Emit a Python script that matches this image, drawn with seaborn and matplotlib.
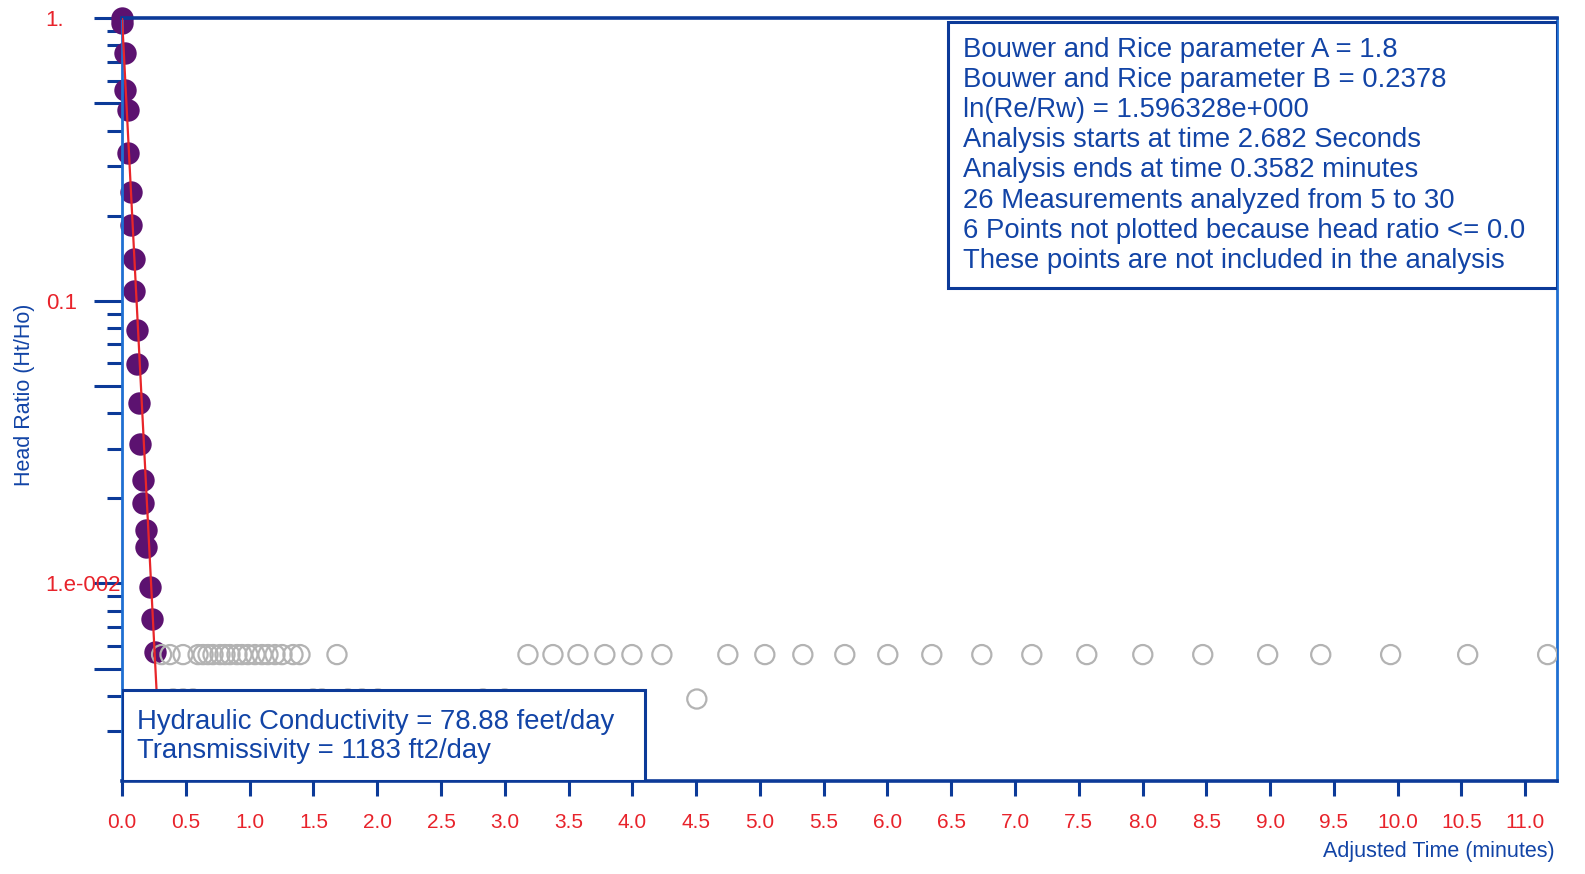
import numpy as np
import seaborn as sns
import matplotlib.pyplot as plt
from matplotlib.patches import Rectangle
from matplotlib.ticker import FixedLocator

# measurements used in the analysis (filled dots)
fit_time = [0.0, 0.0, 0.024, 0.024, 0.047, 0.047, 0.071, 0.071, 0.094, 0.094,
            0.118, 0.118, 0.133, 0.141, 0.165, 0.165, 0.188, 0.188, 0.219, 0.235, 0.259]
fit_ratio = [1.0, 0.960, 0.751, 0.555, 0.472, 0.332, 0.243, 0.186, 0.140, 0.108,
             0.0789, 0.0598, 0.0435, 0.0311, 0.0232, 0.0192, 0.0155, 0.0135, 0.00968, 0.00751, 0.00574]

# later measurements, not analyzed (open circles)
other_time = [0.31, 0.376, 0.478, 0.596, 0.635, 0.674, 0.713, 0.768, 0.807, 0.846,
              0.901, 0.940, 0.987, 1.042, 1.097, 1.144, 1.199, 1.254, 1.340, 1.395,
              1.685, 3.182, 3.378, 3.574, 3.785, 3.997, 4.232, 4.749, 5.039, 5.337,
              5.666, 6.003, 6.348, 6.740, 7.132, 7.563, 8.002, 8.472, 8.981, 9.397,
              9.945, 10.549, 11.176,
              0.40, 0.478, 0.556, 1.497, 1.567, 1.771, 1.881, 2.006, 2.829, 3.0, 4.506]
other_ratio = [0.0056] * 43 + [0.0039] * 11

# straight line fit
line_time = [0.0, 0.307]
line_ratio = [1.0, 0.002]

y_major = [0.005, 0.01, 0.05, 0.1, 0.5, 1.0]
y_major_labels = ['', '1.e-002', '', '0.1', '', '1.']
x_tick_labels = ['0.0', '0.5', '1.0', '1.5', '2.0', '2.5', '3.0', '3.5', '4.0', '4.5',
                 '5.0', '5.5', '6.0', '6.5', '7.0', '7.5', '8.0', '8.5', '9.0', '9.5',
                 '10.0', '10.5', '11.0']

info_lines = ['Bouwer and Rice parameter A = 1.8',
              'Bouwer and Rice parameter B = 0.2378',
              'ln(Re/Rw) = 1.596328e+000',
              'Analysis starts at time 2.682 Seconds',
              'Analysis ends at time 0.3582 minutes',
              '26 Measurements analyzed from 5 to 30',
              '6 Points not plotted because head ratio <= 0.0',
              'These points are not included in the analysis']
result_lines = ['Hydraulic Conductivity = 78.88 feet/day',
                'Transmissivity = 1183 ft2/day']

navy = '#0c3a98'
blue = '#1f6fd2'
red = '#e8232b'
text_blue = '#1244a6'

sns.set_style('white')
plt.rcParams['font.family'] = ['Liberation Sans', 'DejaVu Sans']

fig = plt.figure(figsize=(15.85, 8.74), dpi=100)
ax = fig.add_axes([0.077, 0.1064, 0.9054, 0.873])

sns.scatterplot(x=other_time, y=other_ratio, ax=ax, s=190, facecolor='none',
                edgecolor='#b3b3b3', linewidth=1.6, zorder=3)
sns.scatterplot(x=fit_time, y=fit_ratio, ax=ax, s=260, color='#5c1270',
                edgecolor='#5c1270', linewidth=0, zorder=2, clip_on=False)
sns.lineplot(x=line_time, y=line_ratio, ax=ax, color='#e8262a', linewidth=1.6, zorder=4)

ax.set_yscale('log')
ax.set_xlim(0, 11.25)
ax.set_ylim(0.002, 1.0)

ax.yaxis.set_major_locator(FixedLocator(y_major))
ax.set_yticklabels(y_major_labels)
minor = [m * 10.0 ** e for e in (-3, -2, -1) for m in (2, 3, 4, 6, 7, 8, 9)]
minor = [v for v in minor if v > 0.0025]
ax.yaxis.set_minor_locator(FixedLocator(minor))
ax.tick_params(axis='y', which='both', left=True, right=False)
ax.tick_params(axis='y', which='major', direction='out', length=20, width=2.2,
               color=navy, labelcolor=red, labelsize=16, pad=35)
ax.tick_params(axis='y', which='minor', direction='out', length=11, width=2.2, color=navy)
for lbl in ax.get_yticklabels():
    lbl.set_ha('left')

ax.set_xticks(np.arange(0, 11.01, 0.5))
ax.set_xticklabels(x_tick_labels)
ax.tick_params(axis='x', which='major', bottom=True, top=False, direction='out',
               length=11, width=2.2, color=navy, labelcolor=red, labelsize=15, pad=12)

for side, col, lw in [('top', navy, 2.6), ('bottom', navy, 2.6), ('left', blue, 2.0), ('right', blue, 2.0)]:
    ax.spines[side].set_visible(True)
    ax.spines[side].set_color(col)
    ax.spines[side].set_linewidth(lw)

ax.set_xlabel('')
ax.set_ylabel('')
fig.text(25 / 1585, 1 - 395 / 874, 'Head Ratio (Ht/Ho)', rotation=90, ha='center',
         va='center', color=text_blue, fontsize=15.5)
fig.text(1555 / 1585, 1 - 851 / 874, 'Adjusted Time (minutes)', ha='right',
         va='center', color=text_blue, fontsize=15.5)

# parameter box (upper right)
ax.add_patch(Rectangle((0.5756, 0.646), 0.4244, 0.3488, transform=ax.transAxes,
                       facecolor='white', edgecolor=navy, linewidth=2.2, zorder=6))
for i, line in enumerate(info_lines):
    py = 50 + i * 30.1
    ax.text(0.586, (781 - py) / 763, line, transform=ax.transAxes, ha='left',
            va='center', color=text_blue, fontsize=19.8, zorder=7)

# results box (lower left)
ax.add_patch(Rectangle((0.0, 0.0), 0.3645, 0.119, transform=ax.transAxes,
                       facecolor='white', edgecolor=navy, linewidth=2.2, zorder=6))
for i, line in enumerate(result_lines):
    py = 722 + i * 29
    ax.text(0.0105, (781 - py) / 763, line, transform=ax.transAxes, ha='left',
            va='center', color=text_blue, fontsize=19.8, zorder=7)

fig.savefig('out.png', dpi=100)
